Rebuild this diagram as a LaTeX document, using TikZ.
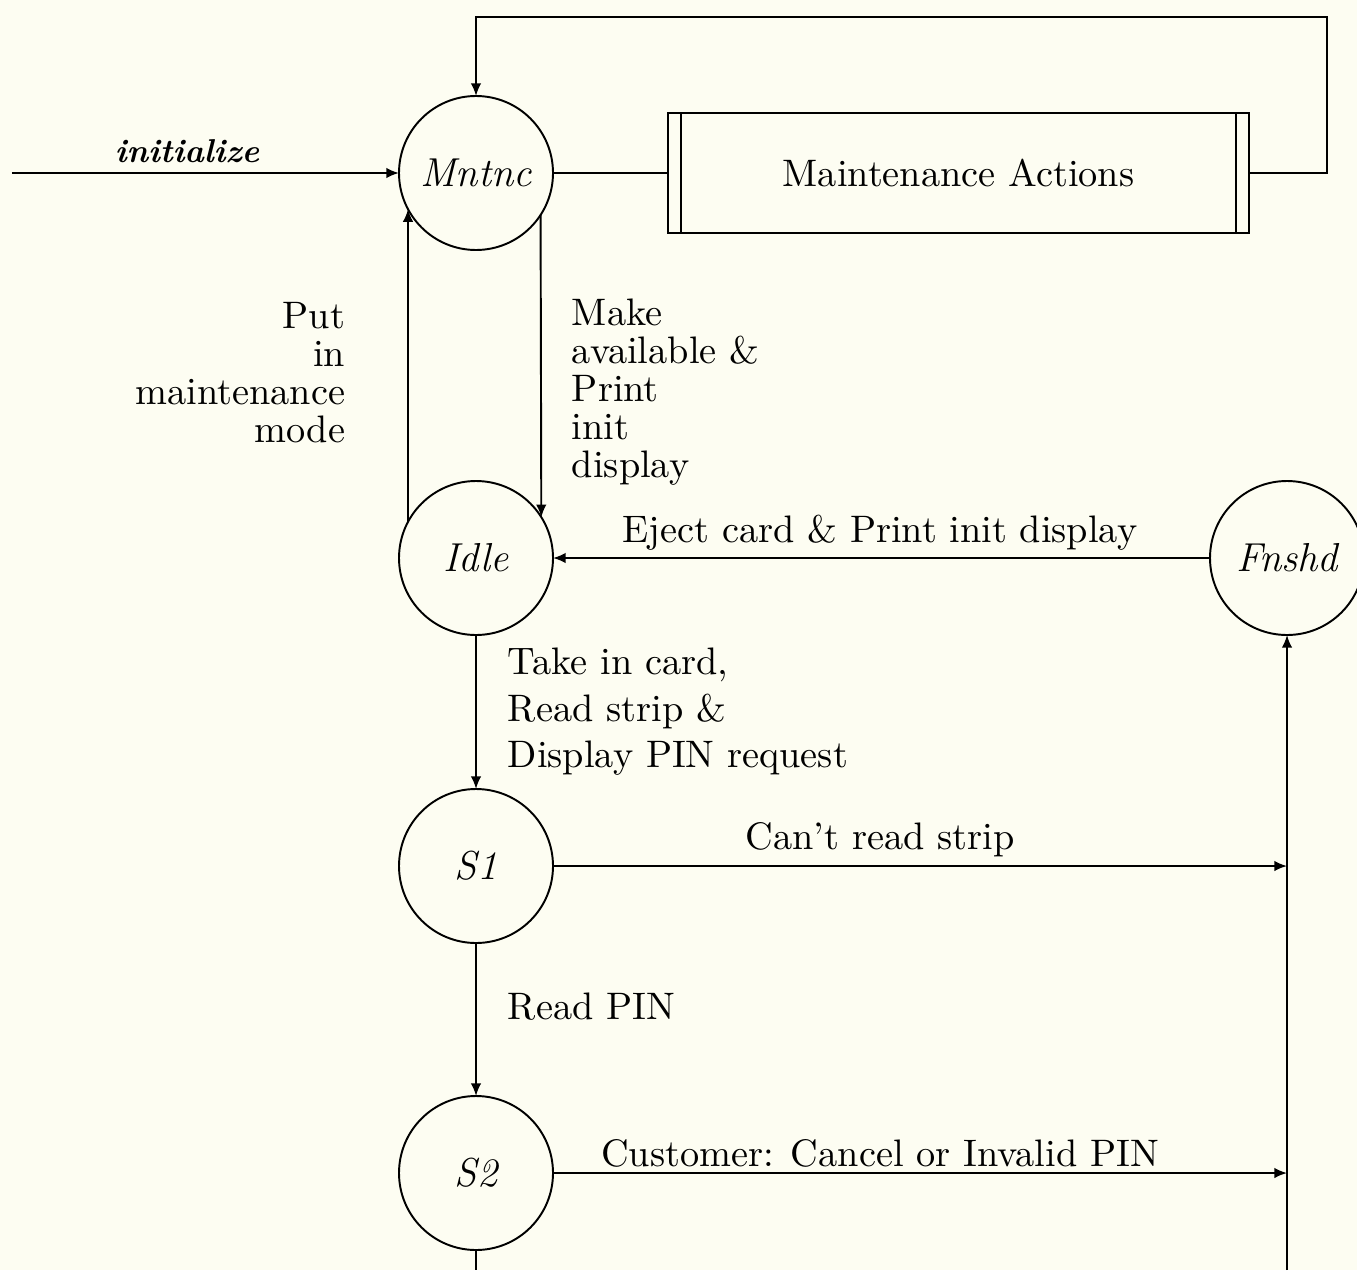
\documentclass[tikz,border=0pt]{standalone}
\usetikzlibrary{arrows.meta}
\definecolor{bgcream}{RGB}{253,253,242}

\begin{document}
\begin{tikzpicture}[
    line width=0.55pt,
    stnode/.style={draw, circle, minimum size=1.54cm, inner sep=0pt, outer sep=0pt,
      font=\fontsize{11.5}{13}\selectfont\itshape},
    lbl/.style={font=\fontsize{10.9}{10.8}\selectfont, inner sep=0pt},
    arr/.style={-{Latex[length=3.6pt,width=3pt]}}
  ]
    \useasboundingbox[fill=bgcream] (0,0) rectangle (13.57,-12.70);

    \coordinate (In) at (0.12,-1.73);
    \coordinate (TR) at (13.27,-0.17);
    \coordinate (Bot) at (12.87,-12.70);
    \coordinate (S2bot) at (4.76,-12.70);

    \node[stnode] (Mntnc) at (4.76,-1.73) {Mntnc};
    \node[stnode] (Idle) at (4.76,-5.58) {Idle};
    \node[stnode] (S1) at (4.76,-8.66) {S1};
    \node[stnode] (S2) at (4.76,-11.73) {S2};
    \node[stnode] (Fnshd) at (12.87,-5.58) {Fnshd};
    \node[draw, minimum width=5.81cm, minimum height=1.20cm, outer sep=0pt,
      font=\fontsize{10.9}{13}\selectfont] (Act) at (9.585,-1.73) {Maintenance Actions};
    \draw ([xshift=0.13cm]Act.north west) -- ([xshift=0.13cm]Act.south west);
    \draw ([xshift=-0.13cm]Act.north east) -- ([xshift=-0.13cm]Act.south east);

    % Transitions
    \draw[arr] (In) -- (Mntnc.west);
    \draw (Mntnc.east) -- (Act.west);
    \draw[arr] (Act.east) -| (TR) -| (Mntnc.north);
    \draw[arr] (Idle.152) -- (Mntnc.208);
    \draw[arr] (Mntnc.327.6) -- (Idle.32.4);
    \draw[arr] (Fnshd.west) -- (Idle.east);
    \draw[arr] (Idle.south) -- (S1.north);
    \draw[arr] (S1.south) -- (S2.north);
    \draw[arr] (S1.east) -- (S1.east -| Fnshd.south);
    \draw[arr] (S2.east) -- (S2.east -| Fnshd.south);
    \draw[arr] (Bot) -- (Fnshd.south);
    \draw (S2.south) -- (S2bot);

    % Labels
    \node[lbl, font=\fontsize{9.4}{11}\selectfont\bfseries\itshape] (linit) at (1.87,-1.51) {initialize};
    \node[lbl, align=right, anchor=east] (lput) at (3.46,-3.73) {Put\\in\\maintenance\\mode};
    \node[lbl, align=left, anchor=west] (lmake) at (5.71,-3.92) {Make\\available \&\\Print\\init\\display};
    \node[lbl] (leject) at (8.80,-5.33) {Eject card \& Print init display};
    \node[lbl, align=left, anchor=west, font=\fontsize{10.9}{13.2}\selectfont] (ltake) at (5.07,-7.12) {Take in card,\\Read strip \&\\Display PIN request};
    \node[lbl] (lstrip) at (8.80,-8.40) {Can't read strip};
    \node[lbl, anchor=west] (lpin) at (5.07,-10.07) {Read PIN};
    \node[lbl] (lcancel) at (8.80,-11.53) {Customer: Cancel or Invalid PIN};
\end{tikzpicture}
\end{document}
